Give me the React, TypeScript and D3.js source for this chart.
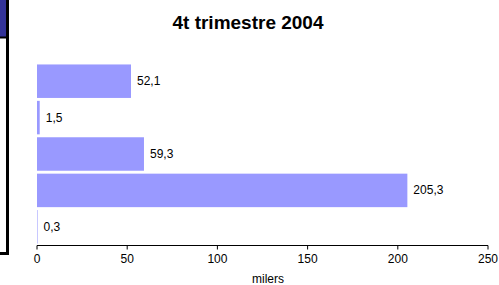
import * as d3 from "d3";

const categories = ["c1", "c2", "c3", "c4", "c5"];
const values = [52.1, 1.5, 59.3, 205.3, 0.3];
const xTicks = [0, 50, 100, 150, 200, 250];
const title = "4t trimestre 2004";
const xTitle = "milers";

const W = 499;
const H = 285;
const font = "'Liberation Sans', Arial, sans-serif";

export default function App() {
  const x = d3.scaleLinear().domain([0, 250]).range([37, 488]);
  const y = d3
    .scaleBand<string>()
    .domain(categories)
    .range([63, 245])
    .paddingInner(0.08)
    .paddingOuter(0.04);
  const axisY = 245.5;
  const fmt = (v: number) => v.toFixed(1).replace(".", ",");

  return (
    <svg
      width={W}
      height={H}
      style={{ position: "fixed", left: 0, top: 0, background: "#fff" }}
      fontFamily={font}
    >
      {/* neighbouring panel, cut off at the left edge */}
      <rect x={-2} y={-2} width={9} height={39} fill="#333399" />
      <line x1={-2} x2={9} y1={37.5} y2={37.5} stroke="#000" strokeWidth={2} />
      <line x1={7.5} x2={7.5} y1={0} y2={255} stroke="#000" strokeWidth={3} />
      <line x1={0} x2={9} y1={253.5} y2={253.5} stroke="#000" strokeWidth={3} />

      <text x={248} y={29} textAnchor="middle" fontSize={19} fontWeight="bold" fill="#000">
        {title}
      </text>

      {categories.map((c, i) => (
        <g key={c}>
          <rect
            x={x(0)}
            y={y(c)!}
            width={x(values[i]) - x(0)}
            height={y.bandwidth()}
            fill="#9999ff"
          />
          <text
            x={x(values[i]) + 6}
            y={y(c)! + y.bandwidth() / 2 + 4}
            fontSize={12}
            fill="#000"
          >
            {fmt(values[i])}
          </text>
        </g>
      ))}

      <line x1={x(0)} x2={x(250)} y1={axisY} y2={axisY} stroke="#000" strokeWidth={1} />
      {xTicks.map((t) => (
        <g key={t}>
          <line x1={x(t)} x2={x(t)} y1={axisY} y2={axisY + 4} stroke="#000" />
          <text x={x(t)} y={263} textAnchor="middle" fontSize={12} fill="#000">
            {t}
          </text>
        </g>
      ))}
      <text x={268} y={283} textAnchor="middle" fontSize={12} fill="#000">
        {xTitle}
      </text>
    </svg>
  );
}
